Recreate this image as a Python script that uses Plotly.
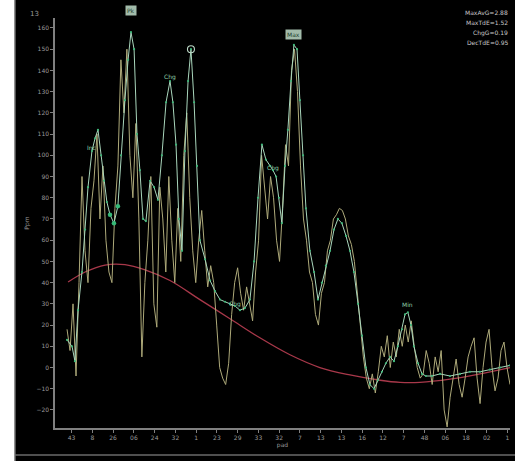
import numpy as np
import plotly.graph_objects as go

# ---- data -------------------------------------------------------------
tick_pos = [8, 18, 28, 38, 48, 58, 68, 78, 88, 98, 108,
            118, 128, 138, 148, 158, 168, 178, 188, 198, 208, 218]
tick_text = ["43", "8", "26", "06", "24", "32", "1", "23", "29", "33", "32",
             "7", "13", "13", "16", "12", "7", "48", "06", "18", "02", "1"]

# raw signal, regularly sampled
raw_vals = [18, 8, 30, -4, 40, 90, 55, 40, 75, 88,
            110, 70, 95, 60, 45, 40, 75, 95, 145, 120,
            150, 100, 80, 115, 70, 5, 40, 60, 90, 30,
            19, 85, 70, 45, 90, 60, 40, 75, 50, 100,
            120, 80, 55, 40, 60, 74, 55, 38, 48, 40,
            20, 0, -5, -8, 2, 25, 40, 47, 35, 27,
            38, 30, 22, 45, 60, 100, 85, 70, 90, 80,
            60, 50, 75, 105, 95, 140, 150, 130, 95, 70,
            60, 45, 40, 25, 20, 35, 40, 55, 60, 70,
            72, 75, 74, 70, 62, 58, 50, 35, 20, 5,
            -5, -10, -3, -12, -2, 10, 5, 15, 0, 12,
            5, 18, 10, 20, 12, 22, 10, 0, -5, -3,
            8, 2, -8, 5, -2, 8, -20, -28, -14, -5,
            4, -8, -14, -5, 5, 10, 14, -5, -17, 0,
            12, 18, 0, -11, -5, 8, 12, 0, -8]
raw_t = np.linspace(5.8, 219.2, len(raw_vals))

# filtered signal
filt_t = [5.8, 8.2, 9.6, 11.1, 13.0, 14.5, 15.9, 17.8, 19.3, 20.7,
          22.2, 23.6, 25.0, 26.5, 28.4, 30.3, 31.8, 33.7, 35.2, 36.6,
          38.1, 39.5, 40.9, 42.4, 43.8, 45.8, 47.7, 49.6, 51.5, 53.5,
          55.4, 56.8, 58.3, 59.7, 61.2, 62.6, 64.1, 65.5, 67.0, 68.4,
          69.8, 72.3, 74.7, 77.1, 79.5, 81.9, 84.3, 86.7, 89.1, 91.5,
          93.9, 95.9, 97.8, 99.7, 101.6, 103.6, 105.0, 106.5, 107.9, 109.3,
          110.8, 112.2, 113.7, 115.1, 116.6, 118.0, 119.5, 120.9, 122.8, 124.8,
          126.7, 128.6, 130.5, 132.5, 134.4, 136.3, 138.2, 140.2, 142.1, 144.0,
          146.0, 147.9, 149.8, 151.7, 153.7, 155.6, 157.5, 159.4, 161.4, 163.3,
          165.2, 167.2, 168.6, 170.0, 171.5, 172.9, 174.9, 176.8, 178.7, 181.6,
          185.5, 190.3, 195.1, 199.9, 204.7, 209.5, 214.4, 219.2]
filt_vals = [13, 10, 3, 27, 45, 65, 85, 102, 108, 112,
             100, 88, 78, 72, 68, 76, 100, 126, 145, 158,
             150, 110, 93, 70, 69, 88, 85, 79, 100, 125,
             135, 125, 105, 70, 55, 102, 135, 150, 125, 95,
             60, 51, 41, 36, 32, 31, 30, 29, 27, 28,
             32, 50, 80, 105, 98, 95, 93, 90, 80, 68,
             95, 112, 135, 152, 150, 126, 100, 75, 55, 45,
             32, 40, 48, 55, 65, 70, 68, 62, 55, 45,
             30, 15, 0, -8, -10, -6, -2, 2, 5, 3,
             10, 18, 25, 26, 20, 10, 2, -3, -4, -4,
             -3, -4, -3, -2, -2, -1, 0, 1]

# baseline trend
trend_t = [6.3, 14.5, 24.1, 33.7, 43.4, 55.4, 69.8, 84.3, 98.7,
           113.2, 127.6, 142.1, 156.6, 166.2, 175.8, 190.3, 204.7, 219.2]
trend_vals = [40.3, 45, 48.3, 48.5, 46, 41, 32, 23, 14,
              6, 0, -3.5, -6, -7, -7, -5.5, -3, 0]

# tagged points on the filtered signal: (index, tag, vertical offset px)
tags = [(19, "Pk", -22), (30, "Chg", -4), (63, "Max", -10),
        (7, "Inc", -4), (56, "Chg", -2), (47, "Chg", -2), (93, "Min", -8)]
ring_idx = 37
cluster_idx = [13, 14, 15]

stats_lines = ["MaxAvG=2.88", "MaxTdE=1.52", "ChgG=0.19", "DecTdE=0.95"]

# ---- figure -----------------------------------------------------------
grey = "#808080"
label_grey = "#9a9a9a"
font = "DejaVu Sans"

fig = go.Figure()

fig.add_trace(go.Scatter(
    x=trend_t, y=trend_vals, mode="lines", line_shape="spline",
    line=dict(color="#a8384a", width=1.3), hoverinfo="skip"))

fig.add_trace(go.Scatter(
    x=raw_t, y=raw_vals, mode="lines",
    line=dict(color="#aeaa7a", width=1.0), hoverinfo="skip"))

fig.add_trace(go.Scatter(
    x=filt_t, y=filt_vals, mode="lines+markers",
    line=dict(color="#a9d6bc", width=1.0),
    marker=dict(color="#3fb87a", size=2.2), hoverinfo="skip"))

fig.add_trace(go.Scatter(
    x=[filt_t[i] for i in cluster_idx], y=[filt_vals[i] for i in cluster_idx],
    mode="markers", marker=dict(color="#36b877", size=4.5), hoverinfo="skip"))

fig.add_trace(go.Scatter(
    x=[filt_t[ring_idx]], y=[filt_vals[ring_idx]], mode="markers",
    marker=dict(symbol="circle-open", color="#bcd8c6", size=7,
                line=dict(width=1.1)), hoverinfo="skip"))

annotations = []
for idx, tag, dy in tags:
    boxed = tag in ("Pk", "Max")
    annotations.append(dict(
        x=filt_t[idx], y=filt_vals[idx], xref="x", yref="y", text=tag,
        showarrow=False, yshift=-dy, font=dict(family=font, size=6,
        color="#1f3f2c" if boxed else "#8fd0aa"),
        bgcolor="rgba(190,220,200,0.85)" if boxed else "rgba(0,0,0,0)",
        borderpad=1))

annotations.append(dict(x=-0.059, y=1.024, xref="paper", yref="paper",
                        text="13", showarrow=False,
                        font=dict(family=font, size=7, color=label_grey)))
for k, line in enumerate(stats_lines):
    annotations.append(dict(x=1.0, y=1.027 - 0.0245 * k, xref="paper",
                            yref="paper", text=line, showarrow=False,
                            xanchor="right",
                            font=dict(family=font, size=6, color="#c8c8c8")))

# dark panel right of the white page edge, grey frame lines
shapes = [
    dict(type="rect", xref="paper", yref="paper", x0=-0.0879, x1=1.05,
         y0=-0.1, y1=1.06, fillcolor="#000000", line=dict(width=0),
         layer="below"),
    dict(type="line", xref="paper", yref="paper", x0=-0.0879, x1=-0.0879,
         y0=-0.1, y1=1.06, line=dict(color="#6a6a6a", width=1.5)),
    dict(type="line", xref="paper", yref="paper", x0=-0.0879, x1=1.02,
         y0=-0.0659, y1=-0.0659, line=dict(color="#6a6a6a", width=1.5)),
]

fig.update_layout(
    width=515, height=461,
    margin=dict(l=55, r=5, t=18, b=33),
    paper_bgcolor="white", plot_bgcolor="black",
    showlegend=False,
    annotations=annotations, shapes=shapes,
    xaxis=dict(range=[0, 219.2], tickvals=tick_pos, ticktext=tick_text,
               showgrid=False, zeroline=False, showline=True,
               linecolor=grey, linewidth=1.5, ticks="outside", ticklen=3,
               tickcolor=grey, tickfont=dict(family=font, size=6, color=label_grey),
               title=dict(text="pad", standoff=2,
                          font=dict(family=font, size=6, color=label_grey))),
    yaxis=dict(range=[-28.5, 164.7], tickvals=list(range(-20, 161, 10)),
               showgrid=False, zeroline=False, showline=True,
               linecolor=grey, linewidth=1.5, ticks="outside", ticklen=3,
               tickcolor=grey, tickfont=dict(family=font, size=6, color=label_grey),
               title=dict(text="Ppm", standoff=6,
                          font=dict(family=font, size=6, color=label_grey))),
)

fig.write_html("out.html")
